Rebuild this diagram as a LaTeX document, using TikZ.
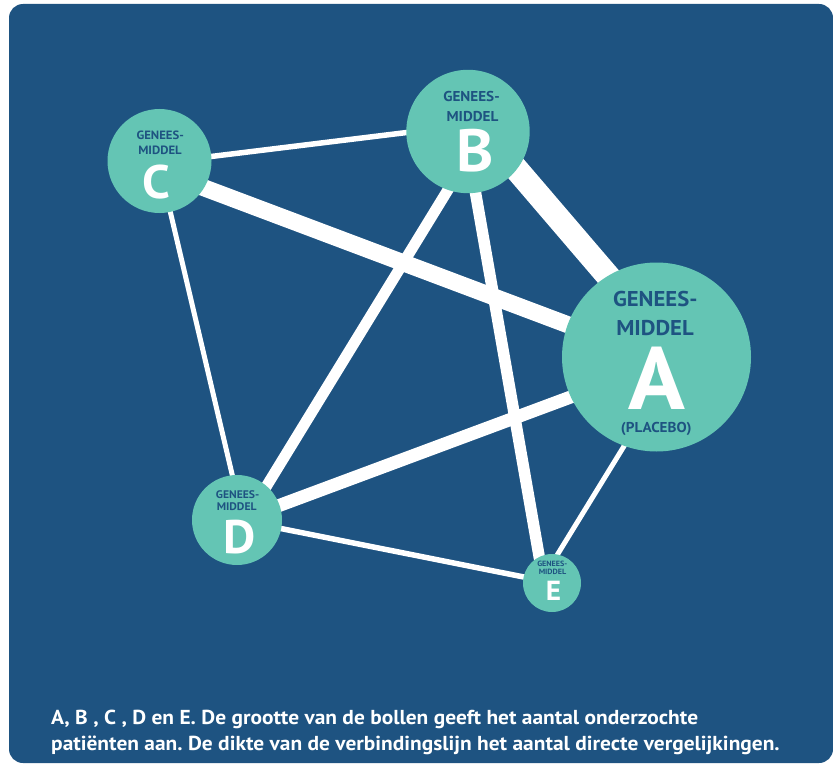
\documentclass[tikz,border=0pt]{standalone}
\usepackage{fontspec}
\setmainfont{PT Sans}[FakeStretch=1.06]
\frenchspacing
\definecolor{bgblue}{HTML}{1E5381}
\definecolor{ballteal}{HTML}{64C5B4}
\definecolor{txtblue}{HTML}{1E5381}
\pgfdeclarelayer{bglayer}
\pgfdeclarelayer{lines}
\pgfsetlayers{bglayer,lines,main}
\tikzset{
  ball/.style={circle, fill=ballteal, draw=none, inner sep=0pt},
  edgeline/.style={draw=white, line width=#1, shorten <=-8pt, shorten >=-8pt},
  smalltxt/.style={inner sep=0pt, anchor=base, text=txtblue, font=\bfseries\fontsize{#1}{#1}\selectfont},
  bigtxt/.style={inner sep=0pt, anchor=base, text=white, text depth=0pt, font=\bfseries\fontsize{#1}{#1}\selectfont},
  capttxt/.style={inner sep=0pt, anchor=base west, text=white, font=\bfseries\fontsize{20.2}{20.2}\selectfont}
}
\begin{document}
\begin{tikzpicture}[x=1pt,y=-1pt]
\useasboundingbox (0,0) rectangle (833,765);
\begin{pgfonlayer}{bglayer}
\fill[bgblue, rounded corners=14pt] (9,4) rectangle (833,763);
\end{pgfonlayer}
% balls
\node[ball, minimum size=189pt] (A) at (656.5,357) {};
\node[ball, minimum size=123.4pt] (B) at (468,131.5) {};
\node[ball, minimum size=104pt] (C) at (159.5,161) {};
\node[ball, minimum size=90pt] (D) at (237,520) {};
\node[ball, minimum size=58pt] (E) at (552,583) {};
% connectors
\begin{pgfonlayer}{lines}
\draw[edgeline=24pt] (B.-38) -- (A.121);
\draw[edgeline=17pt] (C.-31) -- (A.160);
\draw[edgeline=13pt] (D.19) -- (A.205);
\draw[edgeline=11pt] (B.-109) -- (D.49);
\draw[edgeline=11.5pt] (B.-83) -- (E.116);
\draw[edgeline=5.5pt] (C.5) -- (B.181);
\draw[edgeline=5pt] (C.-78) -- (D.96);
\draw[edgeline=5.5pt] (D.-11) -- (E.168);
\draw[edgeline=5pt] (A.250) -- (E.79);
\end{pgfonlayer}
% labels A
\node[smalltxt=21.4] (Ag) at (655.3,306.7) {GENEES-};
\node[smalltxt=21.4] (Am) at (655,335) {MIDDEL};
\node[bigtxt=88.6] (Al) at (656.7,409) {A};
\node[smalltxt=14.3, text height=10pt] (Ap) at (656.2,432.5) {(PLACEBO)};
% labels B
\node[smalltxt=14.3] (Bg) at (471.5,101.7) {GENEES-};
\node[smalltxt=14.3] (Bm) at (472.5,121.7) {MIDDEL};
\node[bigtxt=59.6] (Bl) at (474.8,171.7) {B};
% labels C
\node[smalltxt=12] (Cg) at (160.2,139.3) {GENEES-};
\node[smalltxt=12] (Cm) at (160,155) {MIDDEL};
\node[bigtxt=47] (Cl) at (156,198) {C};
% labels D
\node[smalltxt=11] (Dg) at (237.6,498.3) {GENEES-};
\node[smalltxt=11] (Dm) at (236.7,510) {MIDDEL};
\node[bigtxt=47] (Dl) at (239.2,553) {D};
% labels E
\node[smalltxt=7.6] (Eg) at (552.3,566) {GENEES-};
\node[smalltxt=7.6] (Em) at (552.5,574.3) {MIDDEL};
\node[bigtxt=27.6] (El) at (553.5,600) {E};
% caption
\node[capttxt] (cap1) at (51,724) {A, B , C , D en E. De grootte van de bollen geeft het aantal onderzochte};
\node[capttxt] (cap2) at (51,750) {patiënten aan. De dikte van de verbindingslijn het aantal directe vergelijkingen.};
\end{tikzpicture}
\end{document}
